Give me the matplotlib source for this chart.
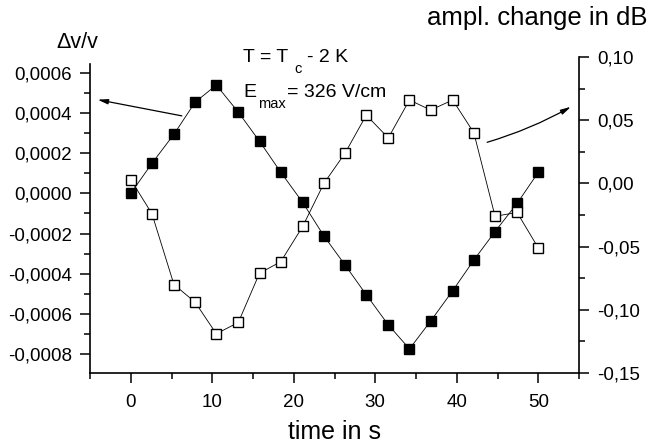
import numpy as np
import matplotlib.pyplot as plt
from matplotlib.ticker import MultipleLocator, FuncFormatter

plt.rcParams['font.family'] = ['Liberation Sans', 'DejaVu Sans']

# time in s
t = [0.0, 2.6, 5.3, 7.9, 10.5, 13.2, 15.8, 18.4, 21.1, 23.7,
     26.3, 28.9, 31.6, 34.2, 36.8, 39.5, 42.1, 44.7, 47.4, 50.0]
# relative sound velocity change (left axis, filled squares)
dv_v = [0.0000, 0.000150, 0.000295, 0.000455, 0.000540, 0.000405, 0.000260, 0.000106,
        -0.000045, -0.000212, -0.000357, -0.000505, -0.000655, -0.000775, -0.000636,
        -0.000485, -0.000332, -0.000190, -0.000050, 0.000105]
# amplitude change in dB (right axis, open squares)
ampl = [0.003, -0.024, -0.080, -0.094, -0.119, -0.110, -0.071, -0.062, -0.034, 0.000,
        0.024, 0.054, 0.036, 0.066, 0.058, 0.066, 0.040, -0.026, -0.023, -0.051]

W, H = 662, 445
fig = plt.figure(figsize=(W / 100, H / 100), dpi=100)
ax = fig.add_axes([90 / W, 1 - 373 / H, (579 - 90) / W, (373 - 57) / H])
ax2 = ax.twinx()

ax.plot(t, dv_v, color='black', lw=0.6, marker='s', ms=7.2,
        mfc='black', mec='black', zorder=3)
ax2.plot(t, ampl, color='black', lw=0.6, marker='s', ms=7.2,
         mfc='white', mec='black', mew=1.0, zorder=3)

ax.set_xlim(-5, 55)
ax.set_ylim(-0.000895, 0.00068)
ax2.set_ylim(-0.15, 0.10)

for a in (ax, ax2):
    a.spines['top'].set_visible(False)
ax.spines['right'].set_visible(False)
ax2.spines['left'].set_visible(False)
ax2.spines['bottom'].set_visible(False)
ax.spines['left'].set_bounds(-0.000895, 0.000645)
for s in ('left', 'bottom'):
    ax.spines[s].set_linewidth(1.2)
ax2.spines['right'].set_linewidth(1.2)

ax.xaxis.set_minor_locator(MultipleLocator(5))
ax.yaxis.set_minor_locator(MultipleLocator(0.0001))
ax2.yaxis.set_minor_locator(MultipleLocator(0.025))
ax.set_xticks(range(0, 51, 10))
ax.set_yticks(np.arange(-0.0008, 0.00061, 0.0002))
ax2.set_yticks(np.arange(-0.15, 0.101, 0.05))

ax.yaxis.set_major_formatter(FuncFormatter(lambda v, p: f'{v:.4f}'.replace('.', ',').replace('-0,0000', '0,0000')))
ax2.yaxis.set_major_formatter(FuncFormatter(lambda v, p: f'{v:.2f}'.replace('.', ',').replace('-0,00', '0,00')))

for a in (ax, ax2):
    a.tick_params(which='major', direction='out', length=7, width=1.1, labelsize=13.5, color='black')
    a.tick_params(which='minor', direction='out', length=4, width=1.1, color='black')
ax.tick_params(axis='x', pad=8)
ax.tick_params(axis='y', pad=6)
ax2.tick_params(axis='y', pad=6)

# arrows pointing at the corresponding axes
ax.annotate('', xy=(-4.4, 0.000470), xytext=(6.6, 0.000384),
            arrowprops=dict(arrowstyle='-|>,head_length=0.6,head_width=0.15',
                            color='black', lw=0.9), annotation_clip=False)
ax2.annotate('', xy=(54.3, 0.0617), xytext=(43.4, 0.0319),
             arrowprops=dict(arrowstyle='-|>,head_length=0.6,head_width=0.15',
                             color='black', lw=0.9, connectionstyle='arc3,rad=0.06'),
             annotation_clip=False)

def ptext(x, y, s, size=14, **kw):
    fig.text(x / W, 1 - y / H, s, fontsize=size, ha='left', va='baseline', **kw)

ptext(243, 62, 'T = T')
ptext(294, 73, 'c', size=10.5)
ptext(307, 62, '- 2 K')
ptext(243, 97, 'E')
ptext(258, 108, 'max', size=10.5)
ptext(287, 97, '= 326 V/cm')

fig.text(77 / W, 1 - 42 / H, 'Δv/v', fontsize=15.5, ha='center', va='center')
fig.text(537 / W, 1 - 25 / H, 'ampl. change in dB', fontsize=18.5, ha='center', va='baseline')
fig.text(334 / W, 1 - 432 / H, 'time in s', fontsize=18, ha='center', va='center')

fig.savefig('out.png', dpi=100)
